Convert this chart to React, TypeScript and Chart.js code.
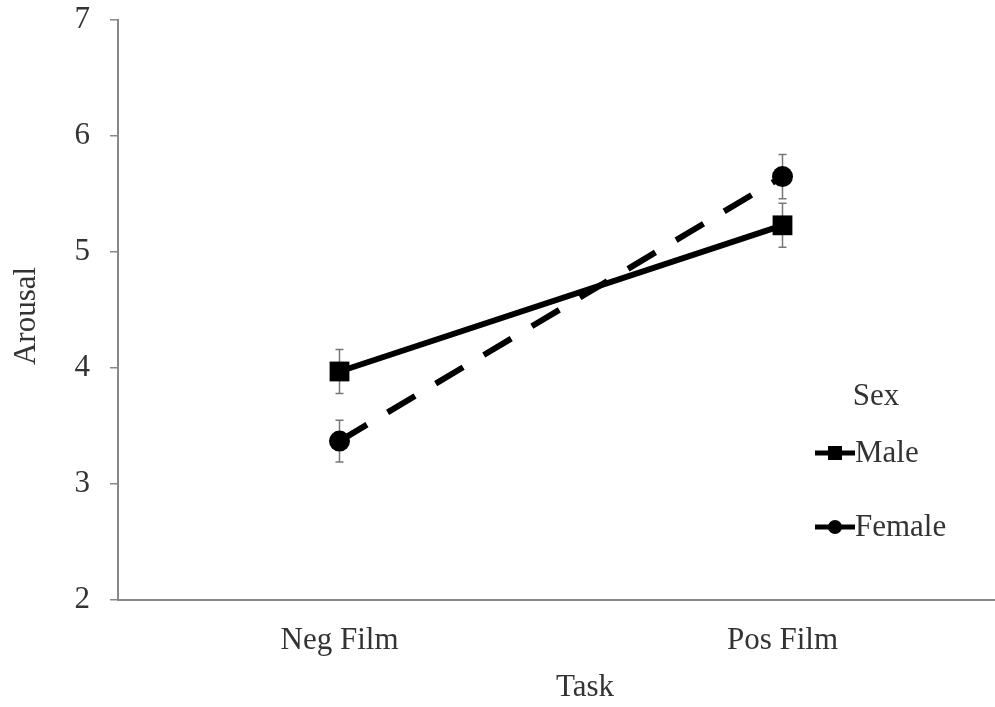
import { useEffect, useRef } from "react";
import { Chart, registerables } from "chart.js";

Chart.register(...registerables);

const categories = ["Neg Film", "Pos Film"];
const maleValues = [3.97, 5.23];
const femaleValues = [3.37, 5.65];
const maleErrors = [0.19, 0.19];
const femaleErrors = [0.18, 0.19];
const yMin = 2;
const yMax = 7;
const legendTitle = "Sex";
const seriesNames = ["Male", "Female"];
const xTitle = "Task";
const yTitle = "Arousal";

const FONT = "'Liberation Serif', 'Times New Roman', serif";
const FS = 31;
const TEXT = "#333";
const AXIS = "#888";

const errorBars = {
  id: "errorBars",
  beforeDatasetsDraw(chart: any) {
    const { ctx } = chart;
    const y = chart.scales.y;
    const errs = [maleErrors, femaleErrors];
    ctx.save();
    ctx.strokeStyle = "#777";
    ctx.lineWidth = 1.5;
    chart.data.datasets.forEach((ds: any, i: number) => {
      const meta = chart.getDatasetMeta(i);
      meta.data.forEach((pt: any, j: number) => {
        const v = ds.data[j];
        const e = errs[i][j];
        const top = y.getPixelForValue(v + e);
        const bot = y.getPixelForValue(v - e);
        ctx.beginPath();
        ctx.moveTo(pt.x, top);
        ctx.lineTo(pt.x, bot);
        ctx.moveTo(pt.x - 4, top);
        ctx.lineTo(pt.x + 4, top);
        ctx.moveTo(pt.x - 4, bot);
        ctx.lineTo(pt.x + 4, bot);
        ctx.stroke();
      });
    });
    ctx.restore();
  },
};

const textLayer = {
  id: "textLayer",
  afterDraw(chart: any) {
    const { ctx } = chart;
    ctx.save();
    ctx.fillStyle = TEXT;
    ctx.font = `${FS}px ${FONT}`;
    ctx.textBaseline = "middle";
    ctx.textAlign = "center";
    // axis titles
    ctx.fillText(xTitle, 585, 688);
    ctx.save();
    ctx.translate(27, 316);
    ctx.rotate(-Math.PI / 2);
    ctx.fillText(yTitle, 0, 0);
    ctx.restore();
    // legend
    ctx.fillText(legendTitle, 876, 397);
    const rows = [453, 527];
    chart.data.datasets.forEach((ds: any, i: number) => {
      const yy = rows[i];
      ctx.strokeStyle = "#000";
      ctx.lineWidth = 5;
      ctx.setLineDash([]);
      ctx.beginPath();
      ctx.moveTo(815, yy);
      ctx.lineTo(855, yy);
      ctx.stroke();
      ctx.fillStyle = "#000";
      if (ds.pointStyle === "rect") {
        ctx.fillRect(835 - 7, yy - 7, 14, 14);
      } else {
        ctx.beginPath();
        ctx.arc(835, yy, 7, 0, Math.PI * 2);
        ctx.fill();
      }
      ctx.fillStyle = TEXT;
      ctx.textAlign = "left";
      ctx.fillText(ds.label, 855, yy + 1);
    });
    ctx.restore();
  },
};

export default function App() {
  const ref = useRef<HTMLCanvasElement>(null);
  useEffect(() => {
    document.body.style.margin = "0";
    const chart = new Chart(ref.current!, {
      type: "line",
      data: {
        labels: categories,
        datasets: [
          {
            label: seriesNames[0],
            data: maleValues,
            borderColor: "#000",
            backgroundColor: "#000",
            borderWidth: 6,
            pointStyle: "rect",
            pointRadius: 14,
            pointBorderWidth: 0,
            pointBackgroundColor: "#000",
          },
          {
            label: seriesNames[1],
            data: femaleValues,
            borderColor: "#000",
            backgroundColor: "#000",
            borderWidth: 6,
            borderDash: [32, 24],
            borderCapStyle: "butt",
            pointStyle: "circle",
            pointRadius: 10.5,
            pointBorderWidth: 0,
            pointBackgroundColor: "#000",
          },
        ],
      },
      options: {
        animation: false,
        responsive: false,
        layout: { autoPadding: false, padding: { top: 20, right: 0, left: 0, bottom: 0 } },
        plugins: { legend: { display: false }, tooltip: { enabled: false } },
        scales: {
          x: {
            type: "category",
            offset: true,
            grid: { display: false, drawTicks: false },
            border: { display: true, color: AXIS, width: 2 },
            ticks: { font: { family: FONT, size: FS }, color: TEXT, padding: 22 },
            title: { display: false },
            afterFit(scale: any) {
              scale.height = 107;
              scale.paddingLeft = 0;
              scale.paddingRight = 0;
            },
          },
          y: {
            min: yMin,
            max: yMax,
            ticks: {
              stepSize: 1,
              font: { family: FONT, size: FS },
              color: TEXT,
              padding: 20,
            },
            grid: {
              display: true,
              drawOnChartArea: false,
              drawTicks: true,
              tickLength: 8,
              color: AXIS,
              lineWidth: 1.5,
            },
            border: { display: true, color: AXIS, width: 2 },
            title: { display: false },
            afterFit(scale: any) {
              scale.width = 118;
              scale.paddingTop = 0;
              scale.paddingBottom = 0;
            },
          },
        },
      },
      plugins: [errorBars, textLayer],
    });
    return () => chart.destroy();
  }, []);
  return (
    <div style={{ width: 995, height: 707, background: "#fff", overflow: "hidden" }}>
      <canvas ref={ref} width={1004} height={707} style={{ display: "block" }} />
    </div>
  );
}
